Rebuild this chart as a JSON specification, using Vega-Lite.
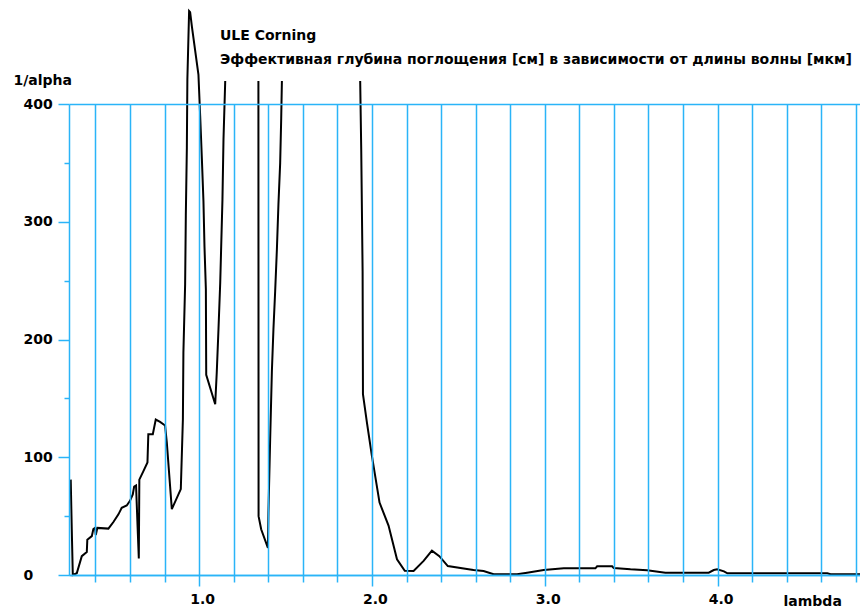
{
  "$schema": "https://vega.github.io/schema/vega-lite/v6.json",
  "width": 792,
  "height": 471,
  "autosize": "none",
  "padding": {"left": 69, "top": 104, "right": 0, "bottom": 34},
  "background": "white",
  "config": {"view": {"stroke": null}, "font": "DejaVu Sans"},
  "title": {
    "text": "ULE Corning",
    "subtitle": "Эффективная глубина поглощения [см] в зависимости от длины волны [мкм]",
    "anchor": "start",
    "frame": "group",
    "dx": 151,
    "dy": 68,
    "font": "DejaVu Sans",
    "fontSize": 14,
    "fontWeight": "bold",
    "color": "black",
    "subtitleFont": "DejaVu Sans",
    "subtitleFontSize": 14,
    "subtitleFontWeight": "bold",
    "subtitleColor": "black",
    "subtitlePadding": 10,
    "offset": 8
  },
  "data": {
    "values": [
      {"seg": 1, "lambda": 0.257, "inv_alpha": 81},
      {"seg": 1, "lambda": 0.263, "inv_alpha": 39},
      {"seg": 1, "lambda": 0.269, "inv_alpha": 0},
      {"seg": 1, "lambda": 0.292, "inv_alpha": 1.5},
      {"seg": 1, "lambda": 0.321, "inv_alpha": 16},
      {"seg": 1, "lambda": 0.350, "inv_alpha": 19.5},
      {"seg": 1, "lambda": 0.353, "inv_alpha": 30},
      {"seg": 1, "lambda": 0.379, "inv_alpha": 33},
      {"seg": 1, "lambda": 0.388, "inv_alpha": 39},
      {"seg": 1, "lambda": 0.398, "inv_alpha": 40},
      {"seg": 1, "lambda": 0.402, "inv_alpha": 34},
      {"seg": 1, "lambda": 0.411, "inv_alpha": 40},
      {"seg": 1, "lambda": 0.475, "inv_alpha": 39.4},
      {"seg": 1, "lambda": 0.504, "inv_alpha": 45},
      {"seg": 1, "lambda": 0.533, "inv_alpha": 51.5},
      {"seg": 1, "lambda": 0.552, "inv_alpha": 57},
      {"seg": 1, "lambda": 0.581, "inv_alpha": 59},
      {"seg": 1, "lambda": 0.600, "inv_alpha": 63},
      {"seg": 1, "lambda": 0.616, "inv_alpha": 68.5},
      {"seg": 1, "lambda": 0.624, "inv_alpha": 75},
      {"seg": 1, "lambda": 0.635, "inv_alpha": 76},
      {"seg": 1, "lambda": 0.643, "inv_alpha": 44.5},
      {"seg": 1, "lambda": 0.651, "inv_alpha": 14},
      {"seg": 1, "lambda": 0.654, "inv_alpha": 81},
      {"seg": 1, "lambda": 0.677, "inv_alpha": 88},
      {"seg": 1, "lambda": 0.701, "inv_alpha": 95.5},
      {"seg": 1, "lambda": 0.706, "inv_alpha": 119.5},
      {"seg": 1, "lambda": 0.732, "inv_alpha": 119.5},
      {"seg": 1, "lambda": 0.749, "inv_alpha": 132},
      {"seg": 1, "lambda": 0.774, "inv_alpha": 130},
      {"seg": 1, "lambda": 0.803, "inv_alpha": 127},
      {"seg": 1, "lambda": 0.813, "inv_alpha": 112.5},
      {"seg": 1, "lambda": 0.842, "inv_alpha": 56},
      {"seg": 1, "lambda": 0.894, "inv_alpha": 73},
      {"seg": 1, "lambda": 0.906, "inv_alpha": 132},
      {"seg": 1, "lambda": 0.909, "inv_alpha": 189},
      {"seg": 1, "lambda": 0.919, "inv_alpha": 247},
      {"seg": 1, "lambda": 0.923, "inv_alpha": 305},
      {"seg": 1, "lambda": 0.929, "inv_alpha": 363},
      {"seg": 1, "lambda": 0.932, "inv_alpha": 421},
      {"seg": 1, "lambda": 0.942, "inv_alpha": 479},
      {"seg": 1, "lambda": 0.948, "inv_alpha": 478},
      {"seg": 1, "lambda": 0.958, "inv_alpha": 466},
      {"seg": 1, "lambda": 0.996, "inv_alpha": 425},
      {"seg": 1, "lambda": 1.006, "inv_alpha": 390},
      {"seg": 1, "lambda": 1.016, "inv_alpha": 353},
      {"seg": 1, "lambda": 1.025, "inv_alpha": 317.6},
      {"seg": 1, "lambda": 1.031, "inv_alpha": 279},
      {"seg": 1, "lambda": 1.039, "inv_alpha": 242.6},
      {"seg": 1, "lambda": 1.041, "inv_alpha": 170},
      {"seg": 1, "lambda": 1.093, "inv_alpha": 145},
      {"seg": 1, "lambda": 1.102, "inv_alpha": 172},
      {"seg": 1, "lambda": 1.112, "inv_alpha": 208.7},
      {"seg": 1, "lambda": 1.122, "inv_alpha": 248},
      {"seg": 1, "lambda": 1.135, "inv_alpha": 319},
      {"seg": 1, "lambda": 1.141, "inv_alpha": 370},
      {"seg": 1, "lambda": 1.151, "inv_alpha": 419.5},
      {"seg": 2, "lambda": 1.343, "inv_alpha": 419.5},
      {"seg": 2, "lambda": 1.344, "inv_alpha": 50},
      {"seg": 2, "lambda": 1.359, "inv_alpha": 38.8},
      {"seg": 2, "lambda": 1.398, "inv_alpha": 23},
      {"seg": 2, "lambda": 1.401, "inv_alpha": 53},
      {"seg": 2, "lambda": 1.411, "inv_alpha": 115},
      {"seg": 2, "lambda": 1.421, "inv_alpha": 173},
      {"seg": 2, "lambda": 1.430, "inv_alpha": 208.7},
      {"seg": 2, "lambda": 1.440, "inv_alpha": 241},
      {"seg": 2, "lambda": 1.450, "inv_alpha": 276.6},
      {"seg": 2, "lambda": 1.459, "inv_alpha": 315},
      {"seg": 2, "lambda": 1.469, "inv_alpha": 350},
      {"seg": 2, "lambda": 1.475, "inv_alpha": 388},
      {"seg": 2, "lambda": 1.479, "inv_alpha": 419.5},
      {"seg": 3, "lambda": 1.932, "inv_alpha": 419.5},
      {"seg": 3, "lambda": 1.938, "inv_alpha": 361.5},
      {"seg": 3, "lambda": 1.946, "inv_alpha": 258},
      {"seg": 3, "lambda": 1.948, "inv_alpha": 153.5},
      {"seg": 3, "lambda": 1.971, "inv_alpha": 129.4},
      {"seg": 3, "lambda": 2.000, "inv_alpha": 101},
      {"seg": 3, "lambda": 2.044, "inv_alpha": 61.5},
      {"seg": 3, "lambda": 2.096, "inv_alpha": 42},
      {"seg": 3, "lambda": 2.145, "inv_alpha": 13.3},
      {"seg": 3, "lambda": 2.190, "inv_alpha": 3.6},
      {"seg": 3, "lambda": 2.241, "inv_alpha": 3.4},
      {"seg": 3, "lambda": 2.299, "inv_alpha": 12},
      {"seg": 3, "lambda": 2.347, "inv_alpha": 20.7},
      {"seg": 3, "lambda": 2.390, "inv_alpha": 16},
      {"seg": 3, "lambda": 2.439, "inv_alpha": 7.6},
      {"seg": 3, "lambda": 2.559, "inv_alpha": 4.8},
      {"seg": 3, "lambda": 2.588, "inv_alpha": 4.2},
      {"seg": 3, "lambda": 2.646, "inv_alpha": 3.4},
      {"seg": 3, "lambda": 2.704, "inv_alpha": 0.6},
      {"seg": 3, "lambda": 2.840, "inv_alpha": 0.6},
      {"seg": 3, "lambda": 2.898, "inv_alpha": 2},
      {"seg": 3, "lambda": 2.994, "inv_alpha": 4.2},
      {"seg": 3, "lambda": 3.110, "inv_alpha": 5.7},
      {"seg": 3, "lambda": 3.207, "inv_alpha": 5.7},
      {"seg": 3, "lambda": 3.293, "inv_alpha": 5.7},
      {"seg": 3, "lambda": 3.303, "inv_alpha": 7.4},
      {"seg": 3, "lambda": 3.390, "inv_alpha": 7.4},
      {"seg": 3, "lambda": 3.399, "inv_alpha": 6},
      {"seg": 3, "lambda": 3.496, "inv_alpha": 4.8},
      {"seg": 3, "lambda": 3.592, "inv_alpha": 4},
      {"seg": 3, "lambda": 3.698, "inv_alpha": 2},
      {"seg": 3, "lambda": 3.949, "inv_alpha": 2},
      {"seg": 3, "lambda": 3.978, "inv_alpha": 4.2},
      {"seg": 3, "lambda": 3.998, "inv_alpha": 4.8},
      {"seg": 3, "lambda": 4.037, "inv_alpha": 3.1},
      {"seg": 3, "lambda": 4.057, "inv_alpha": 1.4},
      {"seg": 3, "lambda": 4.635, "inv_alpha": 1.4},
      {"seg": 3, "lambda": 4.654, "inv_alpha": 0.6},
      {"seg": 3, "lambda": 4.828, "inv_alpha": 0.6}
    ]
  },
  "mark": {"type": "line", "color": "black", "strokeWidth": 2, "clip": false},
  "encoding": {
    "x": {
      "field": "lambda",
      "type": "quantitative",
      "scale": {"domain": [0.247, 4.83], "nice": false, "zero": false},
      "axis": {
        "zindex": 1,
        "values": [0.4, 0.6, 0.8, 1.0, 1.2, 1.4, 1.6, 1.8, 2.0, 2.2, 2.4, 2.6, 2.8, 3.0, 3.2, 3.4, 3.6, 3.8, 4.0, 4.2, 4.4, 4.6, 4.8],
        "grid": true,
        "gridColor": "#2ab4f8",
        "gridWidth": 1.5,
        "gridOpacity": 1,
        "domainColor": "#2ab4f8",
        "domainWidth": 1.5,
        "tickColor": "#2ab4f8",
        "tickWidth": 1.5,
        "tickSize": {"condition": {"test": "datum.value % 1 === 0", "value": 11}, "value": 7},
        "labelExpr": "datum.value % 1 === 0 ? format(datum.value, '.1f') : ''",
        "labelFont": "DejaVu Sans",
        "labelFontSize": 14,
        "labelFontWeight": "bold",
        "labelColor": "black",
        "labelPadding": 6,
        "labelOffset": 3,
        "labelFlush": false,
        "labelOverlap": false,
        "title": "lambda",
        "titleX": 714,
        "titleY": 30,
        "titleAlign": "left",
        "titleBaseline": "alphabetic",
        "titleFont": "DejaVu Sans",
        "titleFontSize": 14,
        "titleFontWeight": "bold",
        "titleColor": "black"
      }
    },
    "y": {
      "field": "inv_alpha",
      "type": "quantitative",
      "scale": {"domain": [0, 400], "nice": false, "zero": true},
      "axis": {
        "zindex": 1,
        "values": [0, 50, 100, 150, 200, 250, 300, 350, 400],
        "grid": true,
        "gridColor": "#2ab4f8",
        "gridWidth": 1.5,
        "gridOpacity": {"condition": {"test": "datum.value === 0 || datum.value === 400", "value": 1}, "value": 0},
        "domainColor": "#2ab4f8",
        "domainWidth": 1.5,
        "tickColor": "#2ab4f8",
        "tickWidth": 1.5,
        "tickSize": {"condition": {"test": "datum.value % 100 === 0", "value": 11}, "value": 5},
        "labelExpr": "datum.value % 100 === 0 ? datum.label : ''",
        "labelAlign": "left",
        "labelPadding": 35,
        "labelFont": "DejaVu Sans",
        "labelFontSize": 14,
        "labelFontWeight": "bold",
        "labelColor": "black",
        "labelFlush": false,
        "labelOverlap": false,
        "title": "1/alpha",
        "titleAngle": 0,
        "titleX": -56,
        "titleY": -20,
        "titleAlign": "left",
        "titleBaseline": "alphabetic",
        "titleFont": "DejaVu Sans",
        "titleFontSize": 14,
        "titleFontWeight": "bold",
        "titleColor": "black"
      }
    },
    "detail": {"field": "seg", "type": "nominal"}
  }
}
